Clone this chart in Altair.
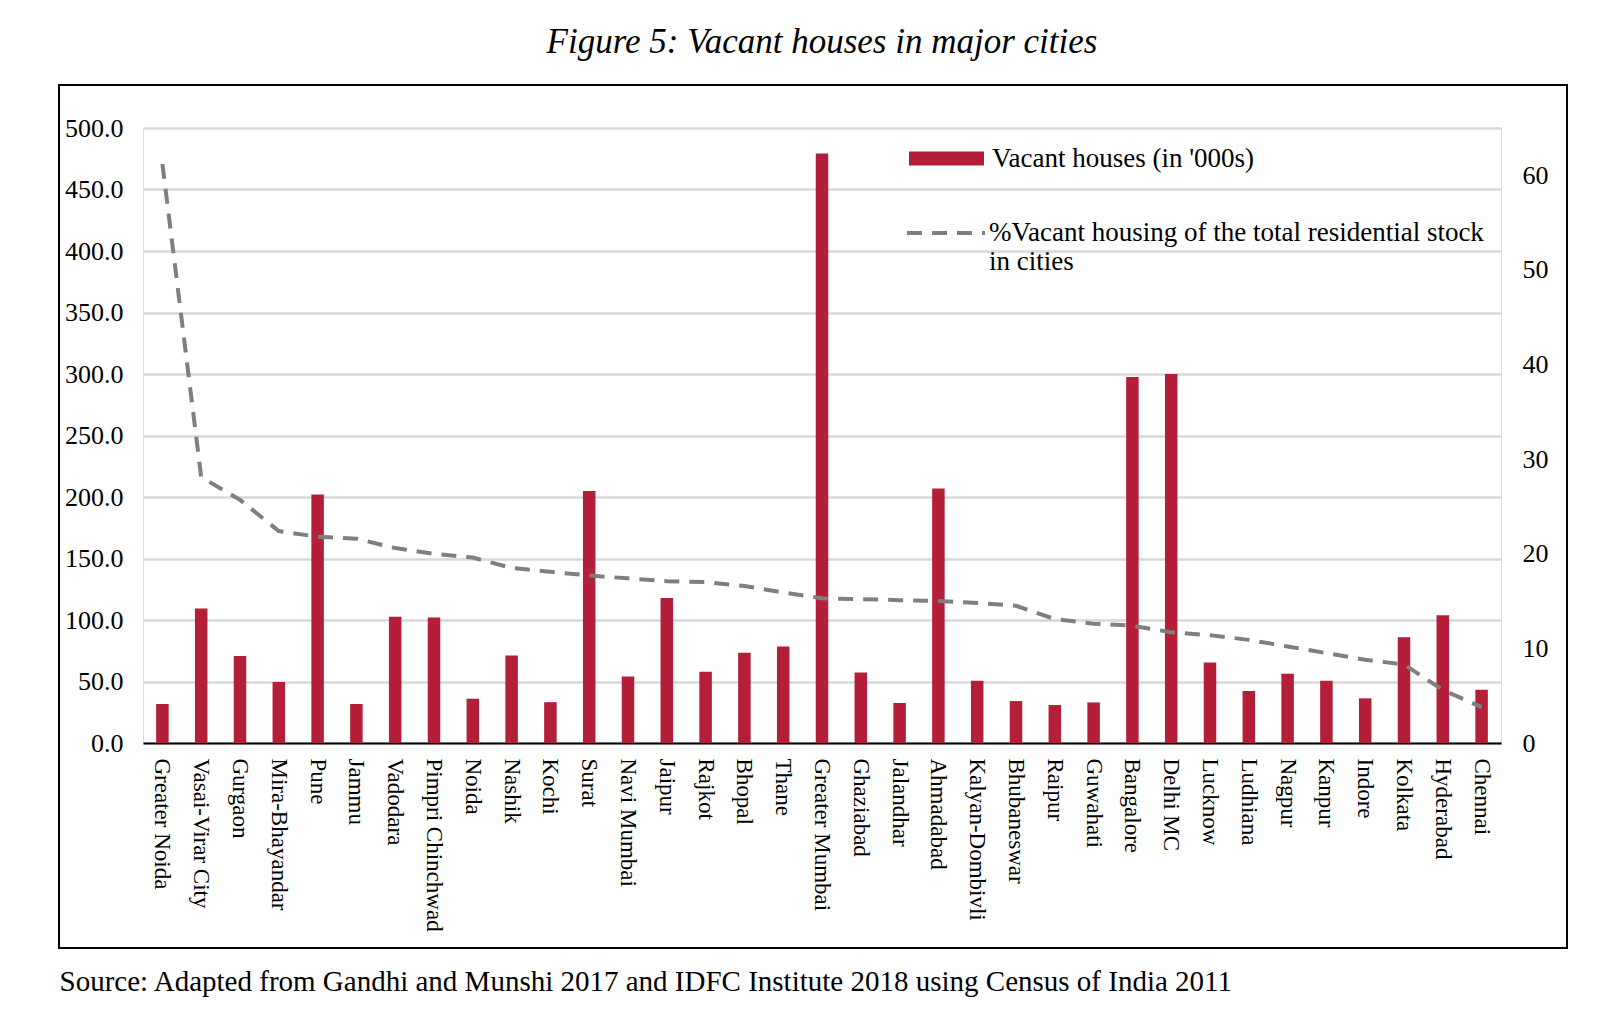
import altair as alt
import pandas as pd

cities = ["Greater Noida", "Vasai-Virar City", "Gurgaon", "Mira-Bhayandar", "Pune", "Jammu",
          "Vadodara", "Pimpri Chinchwad", "Noida", "Nashik", "Kochi", "Surat", "Navi Mumbai",
          "Jaipur", "Rajkot", "Bhopal", "Thane", "Greater Mumbai", "Ghaziabad", "Jalandhar",
          "Ahmadabad", "Kalyan-Dombivli", "Bhubaneswar", "Raipur", "Guwahati", "Bangalore",
          "Delhi MC", "Lucknow", "Ludhiana", "Nagpur", "Kanpur", "Indore", "Kolkata",
          "Hyderabad", "Chennai"]

vacant_000s = [31.7, 109.4, 70.7, 49.6, 202.1, 31.7, 102.7, 102.1, 36.0, 71.2, 33.2, 204.9,
               54.1, 117.9, 58.0, 73.4, 78.5, 479.3, 57.4, 32.5, 207.0, 50.6, 34.1, 30.9,
               33.0, 297.6, 300.0, 65.5, 42.3, 56.3, 50.6, 36.3, 85.9, 103.8, 43.3]

pct_vacant = [61.2, 28.1, 25.7, 22.4, 21.8, 21.6, 20.6, 20.0, 19.6, 18.5, 18.1, 17.7, 17.4,
              17.1, 17.0, 16.6, 15.9, 15.3, 15.2, 15.1, 15.0, 14.8, 14.5, 13.1, 12.6, 12.4,
              11.7, 11.4, 10.9, 10.2, 9.5, 8.8, 8.3, 5.6, 3.8]

left_ticks = [0, 50, 100, 150, 200, 250, 300, 350, 400, 450, 500]
right_ticks = [0, 10, 20, 30, 40, 50, 60]

bar_label = "Vacant houses (in '000s)"
line_label = "%Vacant housing of the total residential stock in cities"
title_text = "Figure 5: Vacant houses in major cities"
source_text = "Source: Adapted from Gandhi and Munshi 2017 and IDFC Institute 2018 using Census of India 2011"

df = pd.DataFrame({"city": cities, "vacant": vacant_000s, "pct": pct_vacant})
df["bar_series"] = bar_label
df["line_series"] = line_label

FONT = "Liberation Serif"
BAR = "#B51E38"
GREY = "#7f7f7f"

x_enc = alt.X(
    "city:N", sort=cities,
    scale=alt.Scale(paddingInner=0, paddingOuter=0),
    axis=alt.Axis(
        title=source_text, titleX=-84, titleY=238, titleAlign="left", titleBaseline="middle",
        titleAngle=0, titleFont=FONT, titleFontSize=29, titleFontWeight="normal", titleColor="black",
        labelAngle=90, labelAlign="left", labelBaseline="middle", labelPadding=15,
        labelFont=FONT, labelFontSize=23, labelColor="black", labelLimit=400,
        ticks=False, domainColor="black", domainWidth=2, grid=False,
    ),
)

frame = alt.Chart(pd.DataFrame({"k": [0]})).mark_rect(
    fillOpacity=0, stroke="black", strokeWidth=2
).encode(x=alt.value(-84), x2=alt.value(1424), y=alt.value(-43), y2=alt.value(820))

bars = alt.Chart(df).mark_bar(size=12.5).encode(
    x=x_enc,
    y=alt.Y(
        "vacant:Q",
        scale=alt.Scale(domain=[0, 500], nice=False),
        axis=alt.Axis(
            title=None, values=left_ticks, format=".1f", domain=False, ticks=False,
            labelPadding=20, labelFont=FONT, labelFontSize=26, labelColor="black",
            grid=True, gridColor="#d9d9d9", gridWidth=2.5,
        ),
    ),
    color=alt.Color(
        "bar_series:N",
        scale=alt.Scale(range=[BAR]),
        legend=alt.Legend(
            orient="none", legendX=766, legendY=-7, title=None, padding=0,
            symbolType="M-1,-0.187L1,-0.187L1,0.187L-1,0.187Z", symbolSize=5625,
            symbolFillColor=BAR, symbolStrokeWidth=0, symbolOpacity=1, labelOffset=8,
            labelFont=FONT, labelFontSize=27, labelColor="black", labelLimit=700,
        ),
    ),
)

line = alt.Chart(df).mark_line(color=GREY, strokeWidth=4).encode(
    x=x_enc,
    y=alt.Y(
        "pct:Q",
        scale=alt.Scale(domain=[0, 65], nice=False),
        axis=alt.Axis(
            orient="right", title=None, values=right_ticks, domain=False, ticks=False,
            grid=False, labelPadding=21, labelFont=FONT, labelFontSize=26, labelColor="black",
        ),
    ),
    strokeDash=alt.StrokeDash(
        "line_series:N",
        scale=alt.Scale(range=[[15, 10]]),
        legend=alt.Legend(
            orient="none", legendX=762, legendY=64, title=None, padding=0,
            symbolType="stroke", symbolSize=6084, symbolStrokeColor=GREY,
            symbolStrokeWidth=4, symbolDash=[15, 10], labelOffset=2,
            labelExpr="['%Vacant housing of the total residential stock', 'in cities']",
            labelFont=FONT, labelFontSize=27, labelColor="black", labelLimit=700,
        ),
    ),
)

chart = alt.layer(frame, bars, line).resolve_scale(
    y="independent", color="independent", strokeDash="independent"
).properties(
    width=1358, height=615,
    title=alt.TitleParams(
        title_text, font=FONT, fontStyle="italic", fontSize=35, fontWeight="normal",
        color="black", anchor="middle", offset=24,
    ),
    padding={"left": 135, "top": 120, "right": 100, "bottom": 270},
    autosize=alt.AutoSizeParams(type="none"),
).configure_view(strokeWidth=0).configure(background="white")

chart.save("out.html", embed_options={"renderer": "svg", "actions": False})
